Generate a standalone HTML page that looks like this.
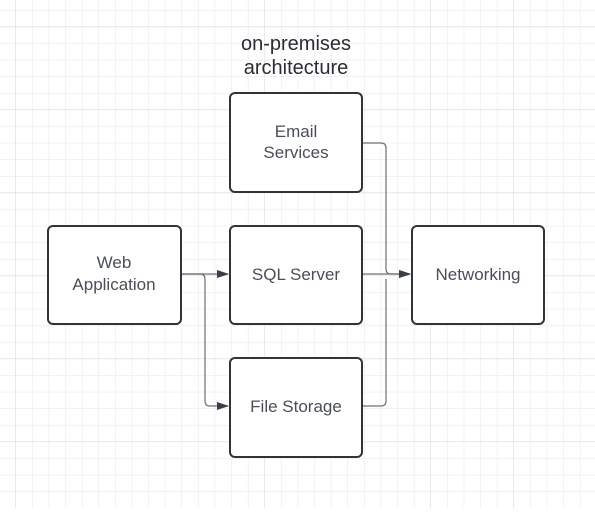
<!DOCTYPE html><html><head><style>
body{margin:0;width:595px;height:508px;overflow:hidden;background:#fff;font-family:"Liberation Sans",sans-serif;}
</style></head><body>
<svg width="595" height="508" xmlns="http://www.w3.org/2000/svg">
<defs>
<pattern id="g" x="15.5" y="10" width="16.6" height="16.6" patternUnits="userSpaceOnUse"><path d="M0 0H16.6M0 0V16.6" stroke="#e6e6e6" stroke-width="1" fill="none"/></pattern>
<pattern id="G" x="15.5" y="26.6" width="83" height="83" patternUnits="userSpaceOnUse"><path d="M0 0H83M0 0V83" stroke="#d6d6d6" stroke-width="1" fill="none"/></pattern>
<marker id="a" markerWidth="12" markerHeight="10" refX="11" refY="5" orient="auto" markerUnits="userSpaceOnUse"><path d="M0 1L12 5L0 9Z" fill="#3a3f47"/></marker>
</defs>
<rect width="595" height="508" fill="url(#g)"/>
<rect width="595" height="508" fill="url(#G)"/>
<g fill="none" stroke="#6b6f76" stroke-width="1.2">
<path d="M181 274H228" marker-end="url(#a)"/>
<path d="M181 274H200q5 0 5 5V401q0 5 5 5H228" marker-end="url(#a)"/>
<path d="M362 143H381q5 0 5 5V269q0 5 5 5H410" marker-end="url(#a)"/>
<path d="M362 274H410" marker-end="url(#a)"/>
<path d="M362 406H381q5 0 5 -5V279"/>
</g>
<g fill="#fff" stroke="#2f333a" stroke-width="2">
<rect x="230" y="93" width="132" height="99" rx="5"/>
<rect x="230" y="226" width="132" height="98" rx="5"/>
<rect x="230" y="358" width="132" height="99" rx="5"/>
<rect x="48" y="226" width="133" height="98" rx="5"/>
<rect x="412" y="226" width="132" height="98" rx="5"/>
</g>
<g fill="#4a4f57" font-size="17" text-anchor="middle">
<text x="296" y="137">Email</text><text x="296" y="158">Services</text>
<text x="296" y="280">SQL Server</text>
<text x="296" y="412">File Storage</text>
<text x="114" y="268">Web</text><text x="114" y="290">Application</text>
<text x="478" y="280">Networking</text>
</g>
<g fill="#2a2d33" font-size="20" text-anchor="middle">
<text x="296" y="50">on-premises</text><text x="296" y="74">architecture</text>
</g>
</svg>
</body></html>
